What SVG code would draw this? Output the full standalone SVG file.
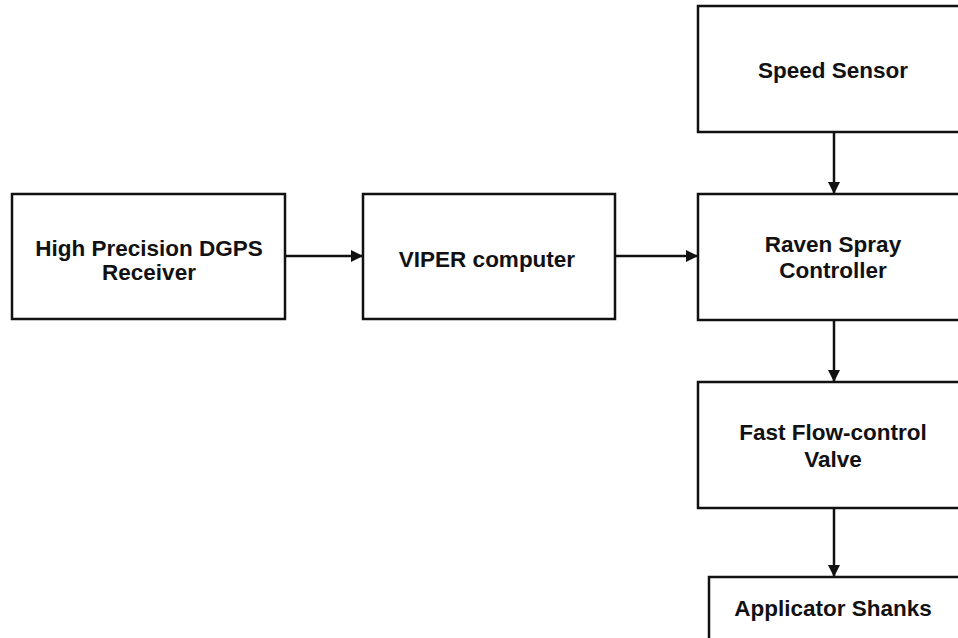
<svg xmlns="http://www.w3.org/2000/svg" width="958" height="638" viewBox="0 0 958 638">
<style>
.box{fill:#fff;stroke:#111;stroke-width:2.5}
.lbl{font-family:"Liberation Sans",Arial,sans-serif;font-weight:bold;font-size:22.5px;fill:#111;text-anchor:middle}
.con{stroke:#111;stroke-width:2.5;fill:none}
</style>
<defs>
<marker id="ah" viewBox="0 0 10 10" refX="10" refY="5" markerWidth="5" markerHeight="5" markerUnits="strokeWidth" orient="auto">
<path d="M0,0 L10,5 L0,10 z" fill="#111"/>
</marker>
</defs>
<rect width="958" height="638" fill="#fff"/>
<g id="dgps"><rect class="box" x="12" y="194" width="273" height="125"/><text class="lbl" x="149" y="256">High Precision DGPS</text><text class="lbl" x="149" y="280">Receiver</text></g>
<g id="viper"><rect class="box" x="363" y="194" width="252" height="125"/><text class="lbl" x="487" y="267">VIPER computer</text></g>
<g id="speed"><rect class="box" x="698" y="6" width="272" height="126"/><text class="lbl" x="833" y="78">Speed Sensor</text></g>
<g id="raven"><rect class="box" x="698" y="194" width="272" height="126"/><text class="lbl" x="833" y="252">Raven Spray</text><text class="lbl" x="833" y="278">Controller</text></g>
<g id="valve"><rect class="box" x="698" y="382" width="272" height="126"/><text class="lbl" x="833" y="440">Fast Flow-control</text><text class="lbl" x="833" y="467">Valve</text></g>
<g id="shanks"><rect class="box" x="709" y="577" width="262" height="80"/><text class="lbl" x="833" y="616">Applicator Shanks</text></g>
<g id="connectors">
<line class="con" x1="285" y1="256" x2="363" y2="256" marker-end="url(#ah)"/>
<line class="con" x1="615" y1="256" x2="698" y2="256" marker-end="url(#ah)"/>
<line class="con" x1="834" y1="132" x2="834" y2="194" marker-end="url(#ah)"/>
<line class="con" x1="834" y1="320" x2="834" y2="382" marker-end="url(#ah)"/>
<line class="con" x1="834" y1="508" x2="834" y2="577" marker-end="url(#ah)"/>
</g>
</svg>
